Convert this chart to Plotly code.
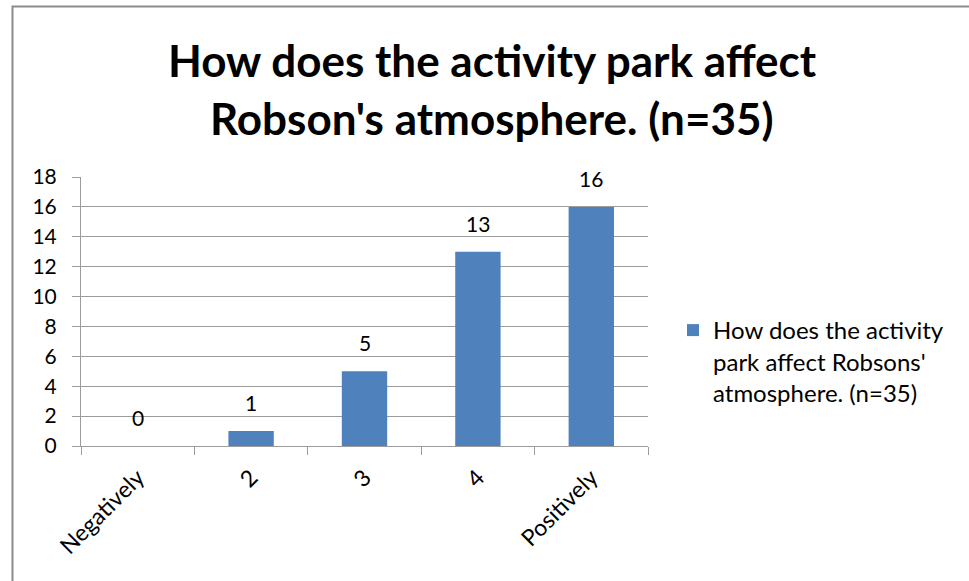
import plotly.graph_objects as go

categories = ["Negatively", "2", "3", "4", "Positively"]
values = [0, 1, 5, 13, 16]
series_name = "How does the activity<br>park affect Robsons'<br>atmosphere. (n=35)"
title_lines = ["How does the activity park affect", "Robson's atmosphere. (n=35)"]
y_ticks = list(range(0, 19, 2))

W, H = 969, 581
# plot area in pixels
L, R, T, B = 81, 648, 177, 446

def px(x):
    return (x - L) / (R - L)

def py(y):
    return (B - y) / (B - T)

FONT = "Lato"
BAR = "#4f81bd"
GRID = "#9c9c9c"

fig = go.Figure()
fig.add_trace(go.Bar(
    x=categories, y=values, name=series_name,
    marker=dict(color=BAR, line=dict(width=0)),
    showlegend=True,
))

annotations = []
for i, v in enumerate(values):
    annotations.append(dict(x=i, y=v, xref="x", yref="y", text=str(v), showarrow=False,
                            yanchor="bottom", yshift=14,
                            font=dict(family=FONT, size=21, color="#000000")))
for i, t in enumerate(title_lines):
    annotations.append(dict(x=px(492), y=py([60, 118][i]), xref="paper", yref="paper",
                            text="<b>%s</b>" % t, showarrow=False, xanchor="center", yanchor="middle",
                            font=dict(family=FONT, size=44, color="#000000")))

fig.update_layout(
    width=W, height=H,
    margin=dict(l=L, r=W - R, t=T, b=H - B, pad=0),
    paper_bgcolor="white", plot_bgcolor="white",
    bargap=0.6,
    font=dict(family=FONT, size=21, color="#000000"),
    showlegend=True,
    legend=dict(x=px(673), y=py(308), xanchor="left", yanchor="top",
                font=dict(family=FONT, size=24, color="#000000"),
                valign="top", itemwidth=30, bgcolor="rgba(0,0,0,0)"),
    annotations=annotations,
    shapes=[dict(type="rect", xref="paper", yref="paper",
                 x0=px(12.5), x1=px(1000), y0=py(6.5), y1=py(620),
                 line=dict(color="#8c8c8c", width=2), layer="below")],
)
fig.update_xaxes(
    type="category", categoryorder="array", categoryarray=categories,
    showline=True, linecolor=GRID, linewidth=1,
    ticks="outside", tickson="boundaries", ticklen=8, tickcolor=GRID,
    tickangle=-45, tickfont=dict(family=FONT, size=23),
    ticklabelstandoff=8,
    showgrid=False, zeroline=False,
)
fig.update_yaxes(
    range=[0, 18], tickvals=y_ticks, ticktext=[str(t) for t in y_ticks],
    showline=True, linecolor=GRID, linewidth=1,
    ticks="outside", ticklen=8, tickcolor=GRID,
    showgrid=True, gridcolor=GRID, gridwidth=1,
    zeroline=False, tickfont=dict(family=FONT, size=21),
    ticklabelstandoff=11,
)
fig.write_html("out.html", config={"displayModeBar": False},
               post_script="document.body.style.margin='0';document.body.style.overflow='hidden';")
